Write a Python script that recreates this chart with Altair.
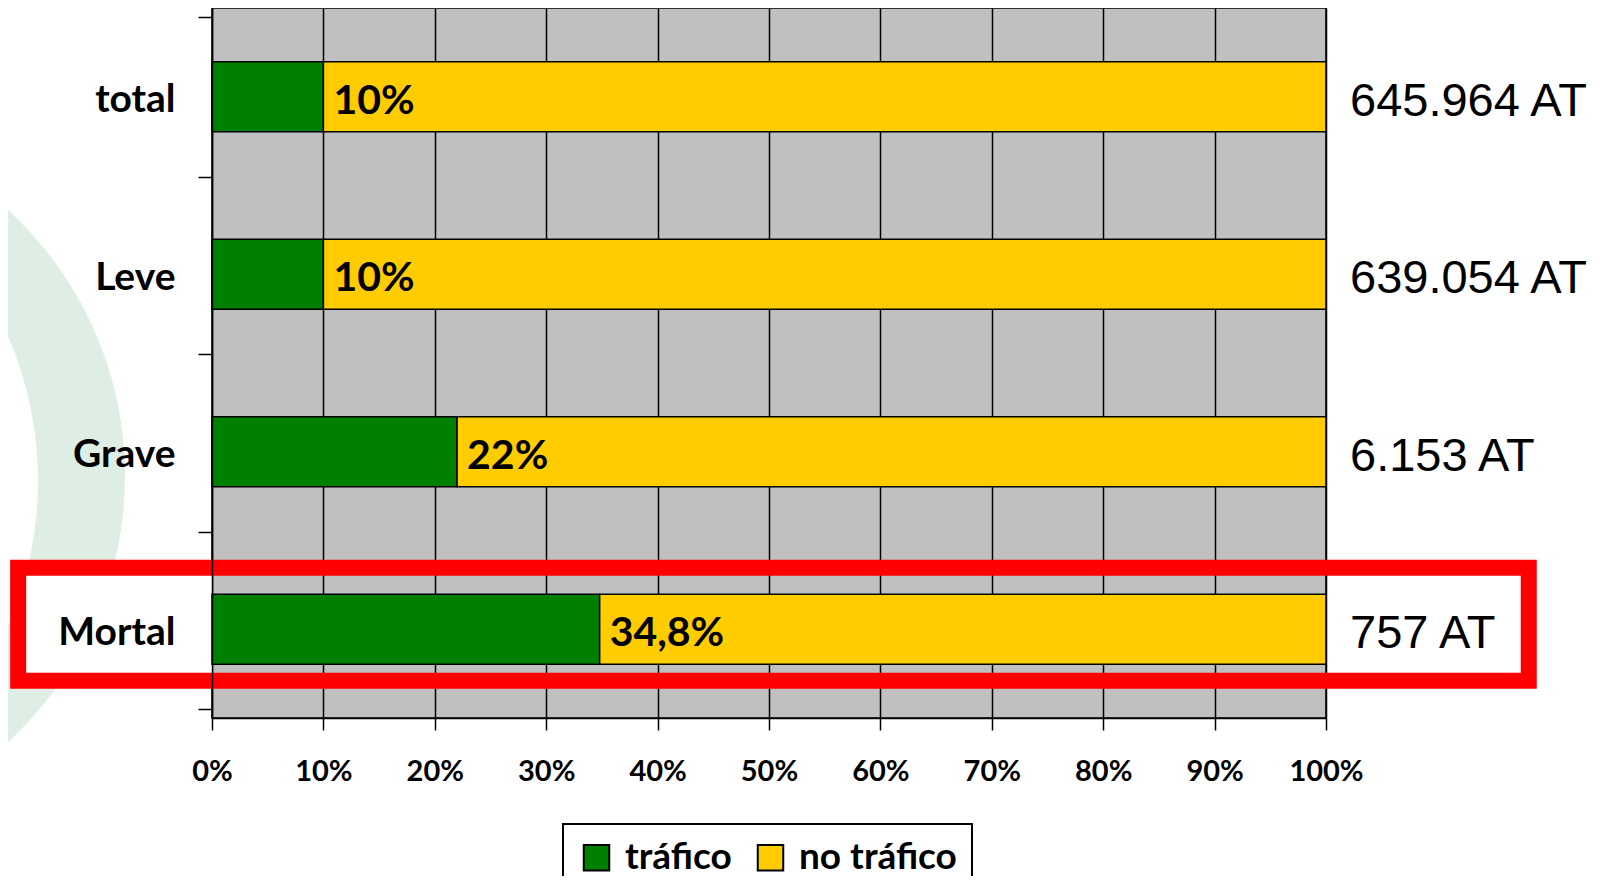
import altair as alt
import pandas as pd

categorias = ["total", "Leve", "Grave", "Mortal"]
trafico = [0.10, 0.10, 0.22, 0.348]
no_trafico = [0.90, 0.90, 0.78, 0.652]
etiquetas_barra = ["10%", "10%", "22%", "34,8%"]
totales = ["645.964 AT", "639.054 AT", "6.153 AT", "757 AT"]
series = ["tráfico", "no tráfico"]
colores = ["#008000", "#FFCC00"]
ticks_x = [0, 0.1, 0.2, 0.3, 0.4, 0.5, 0.6, 0.7, 0.8, 0.9, 1.0]

rows = []
for c, t, n in zip(categorias, trafico, no_trafico):
    rows.append({"cat": c, "tipo": series[0], "valor": t, "orden": 0})
    rows.append({"cat": c, "tipo": series[1], "valor": n, "orden": 1})
df = pd.DataFrame(rows)
lab = pd.DataFrame({"cat": categorias, "trafico": trafico,
                    "etiqueta": etiquetas_barra, "total": totales})

xscale = alt.Scale(domain=[0, 1], nice=False, zero=True)
yscale = alt.Scale(domain=categorias)

y_axis = alt.Axis(title=None, tickBand="extent", ticks=True, tickSize=14,
                  tickColor="black", tickWidth=1.5, domain=True,
                  domainColor="black", domainWidth=1.5, grid=False,
                  labelFont="Lato", labelFontWeight="bold", labelFontSize=39,
                  labelColor="black", labelPadding=23, labelOffset=3, zindex=1)
x_axis = alt.Axis(title=None, values=ticks_x, format=".0%", grid=True,
                  gridColor="black", gridWidth=1.5, gridOpacity=1,
                  ticks=True, tickSize=12, tickColor="black", tickWidth=1.5,
                  domainColor="black", domainWidth=1.5,
                  labelFont="Lato", labelFontWeight="bold", labelFontSize=29,
                  labelColor="black", labelPadding=27, labelFlush=False,
                  labelOverlap=False)

one = alt.Data(values=[{"k": 1}])

# decorative light-green ring behind the labels
ring_outer = alt.Chart(one).mark_arc(
    color="#dfeee4", theta=0, theta2=6.2832, radius=361
).encode(x=alt.value(-448), y=alt.value(468))
ring_inner = alt.Chart(one).mark_arc(
    color="white", theta=0, theta2=6.2832, radius=364
).encode(x=alt.value(-538), y=alt.value(473))

mortal = alt.Chart(lab).transform_filter(alt.datum.cat == "Mortal")

white_box = mortal.mark_bar(color="white", size=113, yOffset=-5).encode(
    x=alt.datum(-0.174, scale=xscale),
    x2=alt.datum(0),
    y=alt.Y("cat:N", scale=yscale, title=None),
)

bars = alt.Chart(df).mark_bar(stroke="black", strokeWidth=1.5, size=70).encode(
    x=alt.X("valor:Q", stack="zero", scale=xscale, axis=x_axis, title=None),
    y=alt.Y("cat:N", scale=yscale, axis=y_axis, title=None),
    color=alt.Color(
        "tipo:N",
        scale=alt.Scale(domain=series, range=colores),
        legend=alt.Legend(
            title=None, orient="none", legendX=351, legendY=816,
            direction="horizontal", symbolType="square", symbolSize=650,
            symbolStrokeColor="black", symbolStrokeWidth=2, symbolOpacity=1,
            labelFont="Lato", labelFontWeight="bold", labelFontSize=37,
            labelColor="black", strokeColor="black", padding=15,
            fillColor="white", columnPadding=20, labelOffset=10,
        ),
    ),
    order=alt.Order("orden:Q"),
)

bar_text = alt.Chart(lab).mark_text(
    align="left", baseline="middle", dx=10, dy=5, font="Lato",
    fontWeight="bold", fontSize=41, color="black"
).encode(
    x=alt.X("trafico:Q", scale=xscale, title=None),
    y=alt.Y("cat:N", scale=yscale, title=None),
    text="etiqueta:N",
)

right_text = alt.Chart(lab).mark_text(
    align="left", baseline="middle", dx=24, dy=5, font="Liberation Sans",
    fontSize=47, color="black"
).encode(
    x=alt.datum(1),
    y=alt.Y("cat:N", scale=yscale, title=None),
    text="total:N",
)

red_frame = mortal.mark_bar(
    filled=False, stroke="#FF0000", strokeWidth=16, size=113, yOffset=-5
).encode(
    x=alt.datum(-0.174),
    x2=alt.datum(1.182),
    y=alt.Y("cat:N", scale=yscale, title=None),
)

chart = alt.layer(
    ring_outer, ring_inner, white_box, bars, bar_text, right_text, red_frame
).properties(
    width=1114, height=710,
    autosize=alt.AutoSizeParams(type="none"),
    padding={"left": 204, "top": 0, "right": 280, "bottom": 158},
).configure_view(
    fill="#C0C0C0", stroke="black", strokeWidth=1.5
).configure_legend(strokeWidth=2)

chart.save("out.html", embed_options={"renderer": "svg", "actions": False})
